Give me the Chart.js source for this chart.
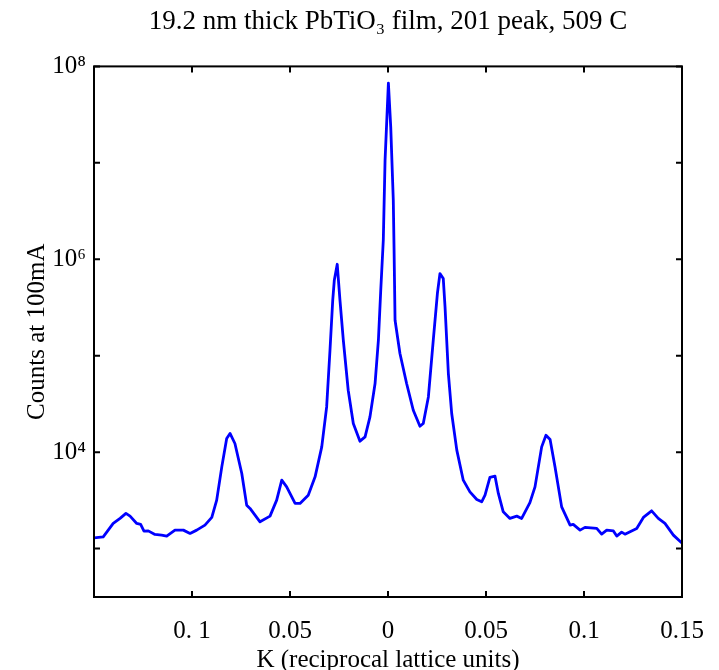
<!DOCTYPE html>
<html>
<head>
<meta charset="utf-8">
<script src="https://cdn.jsdelivr.net/npm/chart.js@4/dist/chart.umd.min.js"></script>
<style>
  html, body { margin: 0; padding: 0; background: #fff; }
  #wrap { width: 719px; height: 670px; }
</style>
</head>
<body>
<div id="wrap"><canvas id="peakChart" width="719" height="670"></canvas></div>
<script>
// K (reciprocal lattice units) and counts
var kValues = [
  -0.1500, -0.1453, -0.1402, -0.1367, -0.1337, -0.1316, -0.1282, -0.1262, -0.1245, -0.1223,
  -0.1189, -0.1155, -0.1129, -0.1087, -0.1044, -0.1010, -0.0976, -0.0934, -0.0899, -0.0874,
  -0.0848, -0.0823, -0.0806, -0.0781, -0.0746, -0.0721, -0.0704, -0.0653, -0.0602, -0.0568,
  -0.0542, -0.0517, -0.0474, -0.0449, -0.0407, -0.0372, -0.0338, -0.0313, -0.0296, -0.0282,
  -0.0274, -0.0259, -0.0245, -0.0228, -0.0203, -0.0177, -0.0143, -0.0117, -0.0092, -0.0066,
  -0.0049, -0.0037, -0.0024, -0.0015, 0.0002, 0.0014, 0.0027, 0.0031, 0.0036, 0.0061,
  0.0095, 0.0129, 0.0163, 0.0180, 0.0206, 0.0231, 0.0252, 0.0265, 0.0282, 0.0291,
  0.0308, 0.0325, 0.0351, 0.0384, 0.0418, 0.0453, 0.0478, 0.0495, 0.0520, 0.0546,
  0.0563, 0.0588, 0.0622, 0.0657, 0.0682, 0.0724, 0.0750, 0.0784, 0.0806, 0.0827,
  0.0852, 0.0886, 0.0929, 0.0945, 0.0980, 0.1005, 0.1065, 0.1090, 0.1116, 0.1150,
  0.1167, 0.1192, 0.1209, 0.1269, 0.1303, 0.1345, 0.1379, 0.1413, 0.1456, 0.1498
];
var counts = [
  1290, 1325, 1824, 2056, 2317, 2172, 1824, 1782, 1518, 1527,
  1403, 1380, 1349, 1555, 1555, 1437, 1555, 1753, 2105, 3182,
  7046, 13870, 15630, 12300, 6012, 2824, 2612, 1896, 2172, 3182,
  5125, 4366, 2940, 2940, 3582, 5546, 11350, 29450, 114000, 375800,
  605700, 887600, 375800, 144800, 43870, 19830, 13000, 14410, 23230, 51500,
  144800, 477500, 1574000, 10600000, 67100000, 23500000, 4090000, 1240000, 233400, 105400,
  51500, 27230, 18590, 19830, 37410, 144800, 441300, 711000, 631000, 320500,
  65400, 25180, 10490, 5125, 3880, 3235, 3055, 3582, 5470, 5636,
  3733, 2406, 2056, 2172, 2056, 2999, 4366, 11350, 15000, 13550,
  7046, 2710, 1753, 1782, 1555, 1660, 1619, 1413, 1555, 1527,
  1349, 1483, 1413, 1619, 2105, 2464, 2056, 1824, 1380, 1148
];

var xTickValues = [-0.15, -0.1, -0.05, 0, 0.05, 0.1, 0.15];
var xTickLabels = ['', '0. 1', '0.05', '0', '0.05', '0.1', '0.15'];
var yTickValues = [1e3, 1e4, 1e5, 1e6, 1e7, 1e8];
var yTickLabels = ['', '10\u2074', '', '10\u2076', '', '10\u2078'];

var serif = "'Liberation Serif', 'Times New Roman', serif";

// frame + inward ticks, matlab style
var frameTicks = {
  id: 'frameTicks',
  afterDraw: function(chart) {
    var ctx = chart.ctx, a = chart.chartArea;
    var xs = chart.scales.x, ys = chart.scales.y;
    var len = 6;
    ctx.save();
    ctx.strokeStyle = '#000';
    ctx.lineWidth = 2;
    ctx.strokeRect(a.left, a.top, a.right - a.left, a.bottom - a.top);
    ctx.beginPath();
    xTickValues.forEach(function(v) {
      var px = xs.getPixelForValue(v);
      ctx.moveTo(px, a.bottom); ctx.lineTo(px, a.bottom - len);
      ctx.moveTo(px, a.top); ctx.lineTo(px, a.top + len);
    });
    yTickValues.forEach(function(v) {
      var py = ys.getPixelForValue(v);
      ctx.moveTo(a.left, py); ctx.lineTo(a.left + len, py);
      ctx.moveTo(a.right, py); ctx.lineTo(a.right - len, py);
    });
    ctx.stroke();
    ctx.restore();
  }
};

var canvas = document.getElementById('peakChart');

var chart = new Chart(canvas, {
  type: 'line',
  data: {
    datasets: [{
      data: kValues.map(function(k, i) { return { x: k, y: counts[i] }; }),
      borderColor: '#0000ff',
      borderWidth: 2.8,
      borderJoinStyle: 'round',
      borderCapStyle: 'round',
      pointRadius: 0,
      tension: 0,
      fill: false
    }]
  },
  options: {
    responsive: false,
    animation: false,
    layout: { padding: { left: 0, right: 0, top: 0, bottom: 0 } },
    plugins: {
      legend: { display: false },
      tooltip: { enabled: false },
      title: {
        display: true,
        fullSize: false,
        text: '19.2 nm thick PbTiO\u2083 film, 201 peak, 509 C',
        color: '#000',
        font: { family: serif, size: 27, weight: 'normal', lineHeight: 1.2 },
        padding: { top: 6, bottom: 28 }
      }
    },
    scales: {
      x: {
        type: 'linear',
        min: -0.15,
        max: 0.15,
        grid: { display: false, drawTicks: false },
        border: { display: false },
        afterBuildTicks: function(scale) {
          scale.ticks = xTickValues.map(function(v) { return { value: v }; });
        },
        afterFit: function(scale) {
          scale.height = 73;
          scale.paddingRight = 37;
        },
        ticks: {
          autoSkip: false,
          maxRotation: 0,
          padding: 19,
          color: '#000',
          font: { family: serif, size: 25 },
          callback: function(value, index) { return xTickLabels[index]; }
        },
        title: {
          display: true,
          text: 'K (reciprocal lattice units)',
          color: '#000',
          font: { family: serif, size: 25, lineHeight: 0.8 },
          padding: { top: 0, bottom: 0 }
        }
      },
      y: {
        type: 'logarithmic',
        min: 315,
        max: 1e8,
        grid: { display: false, drawTicks: false },
        border: { display: false },
        afterBuildTicks: function(scale) {
          scale.ticks = yTickValues.map(function(v) { return { value: v }; });
        },
        afterFit: function(scale) { scale.width = 94; },
        ticks: {
          autoSkip: false,
          padding: 8,
          color: '#000',
          font: { family: serif, size: 25 },
          callback: function(value, index) { return yTickLabels[index]; }
        },
        title: {
          display: true,
          text: 'Counts at 100mA',
          color: '#000',
          font: { family: serif, size: 25, lineHeight: 1.2 },
          padding: { top: 22, bottom: 0 }
        }
      }
    }
  },
  plugins: [frameTicks]
});
</script>
</body>
</html>
